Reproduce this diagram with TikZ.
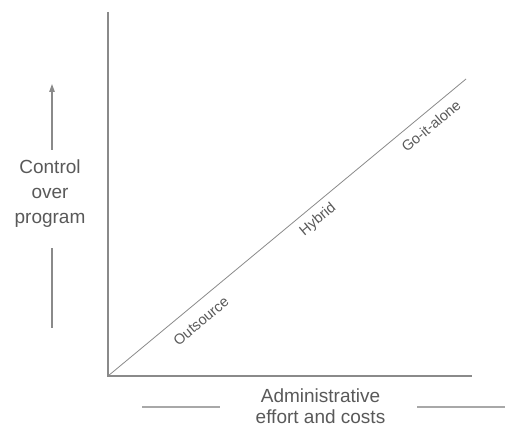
\documentclass[tikz,border=0pt]{standalone}
\usepackage{fontspec}
\setmainfont{Liberation Sans}
\usetikzlibrary{arrows.meta}
\definecolor{txt}{HTML}{595959}
\definecolor{axis}{HTML}{8A8A8A}
\definecolor{deco}{HTML}{A8A8A8}
\begin{document}
\begin{tikzpicture}[x=1pt,y=-1pt,
  axisline/.style={draw=axis,line width=1.3pt},
  diag/.style={draw=axis,line width=0.8pt},
  decoline/.style={draw=deco,line width=1.6pt},
  arrline/.style={draw=axis,line width=1.2pt},
  big/.style={text=txt,font=\fontsize{19}{23}\selectfont,anchor=base,inner sep=0pt},
  lab/.style={text=txt,font=\fontsize{14.5}{16}\selectfont,rotate=39.8,inner sep=0pt}]
\useasboundingbox (0,0) rectangle (505,430);
% axes
\coordinate (O) at (108,376);
\coordinate (ytop) at (108,12);
\coordinate (xend) at (472,376);
\coordinate (dend) at (466,79);
\draw[axisline] (ytop) -- (O) -- (xend);
\draw[diag] (O) -- (dend);
% diagonal labels
\node[lab] (outs) at (201,321) {Outsource};
\node[lab] (hyb) at (318,220) {Hybrid};
\node[lab] (go) at (431,126) {Go-it-alone};
% left label with arrow
\node[big] (c1) at (50,174) {Control};
\node[big] (c2) at (50,199) {over};
\node[big] (c3) at (50,223) {program};
\coordinate (a1) at (52,150);
\coordinate (a2) at (52,84);
\coordinate (b1) at (52,248);
\coordinate (b2) at (52,328);
\draw[arrline,-{Triangle[width=5.5pt,length=8pt]}] (a1) -- (a2);
\draw[arrline] (b1) -- (b2);
% bottom label
\node[big] (x1) at (320.5,402) {Administrative};
\node[big] (x2) at (320.5,423) {effort and costs};
\coordinate (l1) at (142,407);
\coordinate (l2) at (220,407);
\coordinate (r1) at (417,407);
\coordinate (r2) at (505,407);
\draw[decoline] (l1) -- (l2);
\draw[decoline] (r1) -- (r2);
\end{tikzpicture}
\end{document}
